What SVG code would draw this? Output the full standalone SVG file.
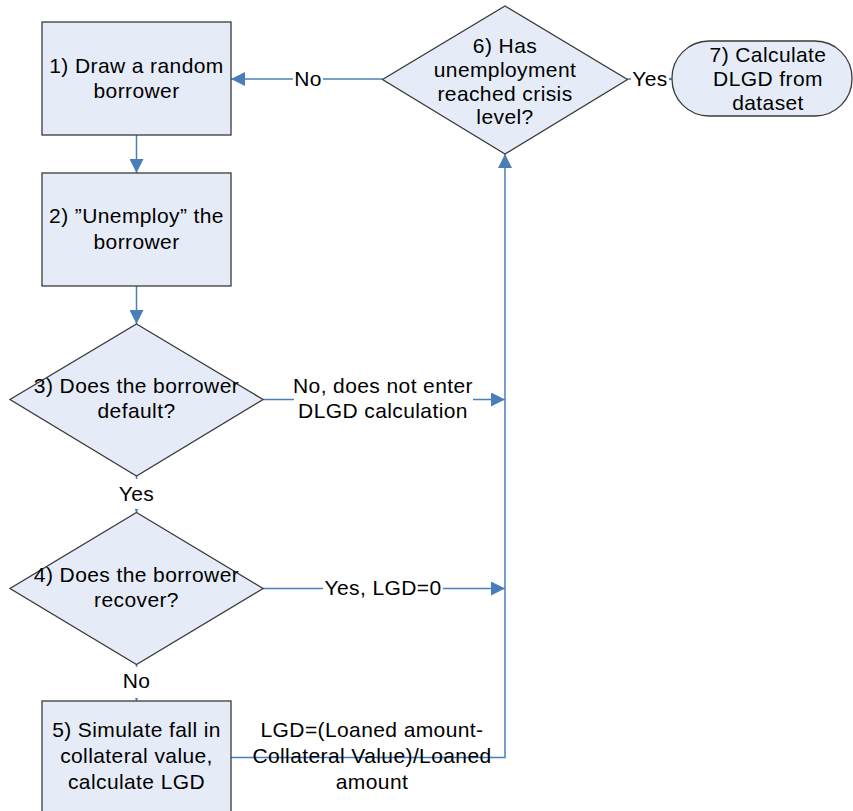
<svg xmlns="http://www.w3.org/2000/svg" width="853" height="811" viewBox="0 0 853 811">
<defs>
<style>
.shape{fill:#E6ECF7;stroke:#3a3a3a;stroke-width:1.3}
.conn{fill:none;stroke:#4A7EBB;stroke-width:1.5}
text{font-family:"Liberation Sans",Arial,sans-serif;font-size:21px;letter-spacing:0.4px;fill:#000;text-anchor:middle}
.bg{fill:#fff}
</style>
<marker id="arr" viewBox="0 0 14 14" refX="14" refY="7" markerWidth="14" markerHeight="14" markerUnits="userSpaceOnUse" orient="auto">
<path d="M0,0 L14,7 L0,14 Z" fill="#4A7EBB"/>
</marker>
</defs>
<rect width="853" height="811" fill="#fff"/>
<g id="connectors">
<path class="conn" d="M136.5,135 V173" marker-end="url(#arr)"/>
<path class="conn" d="M136.5,286 V324" marker-end="url(#arr)"/>
<path class="conn" d="M136.5,476 V512.5" marker-end="url(#arr)"/>
<path class="conn" d="M136.5,664.5 V701" marker-end="url(#arr)"/>
<path class="conn" d="M263,399.5 H505" marker-end="url(#arr)"/>
<path class="conn" d="M263,588.5 H505" marker-end="url(#arr)"/>
<path class="conn" d="M231,757.5 H505 V154" marker-end="url(#arr)"/>
<path class="conn" d="M382.5,79 H231" marker-end="url(#arr)"/>
<path class="conn" d="M627.5,79 H672" marker-end="url(#arr)"/>
<g id="conn-labels">
<rect class="bg" x="293" y="67" width="30" height="24"/>
<text x="308" y="86">No</text>
<rect class="bg" x="631" y="67" width="38" height="24"/>
<text x="650" y="86">Yes</text>
<rect class="bg" x="294" y="377" width="179" height="47"/>
<text x="383" y="393">No, does not enter</text>
<text x="383" y="418">DLGD calculation</text>
<rect class="bg" x="117" y="479" width="39" height="30"/>
<text x="136.5" y="501">Yes</text>
<rect class="bg" x="323" y="577" width="120" height="24"/>
<text x="383" y="595">Yes, LGD=0</text>
<rect class="bg" x="120" y="667" width="33" height="31"/>
<text x="136.5" y="688">No</text>
<text x="372" y="737">LGD=(Loaned amount-</text>
<text x="372" y="763">Collateral Value)/Loaned</text>
<text x="372" y="789">amount</text>
</g>
</g>
<g id="node1">
<rect class="shape" x="42" y="22" width="189" height="113"/>
<text x="136.5" y="72.5">1) Draw a random</text>
<text x="136.5" y="98">borrower</text>
</g>
<g id="node2">
<rect class="shape" x="42" y="173" width="189" height="113"/>
<text x="136.5" y="223">2) ”Unemploy” the</text>
<text x="136.5" y="248.5">borrower</text>
</g>
<g id="node3">
<path class="shape" d="M136.5,324 L263,399.5 L136.5,476 L10,399.5 Z"/>
<text x="136.5" y="393">3) Does the borrower</text>
<text x="136.5" y="418">default?</text>
</g>
<g id="node4">
<path class="shape" d="M136.5,512.5 L263,588.5 L136.5,664.5 L10,588.5 Z"/>
<text x="136.5" y="582">4) Does the borrower</text>
<text x="136.5" y="607">recover?</text>
</g>
<g id="node5">
<rect class="shape" x="42" y="701" width="189" height="113"/>
<text x="136.5" y="737">5) Simulate fall in</text>
<text x="136.5" y="763">collateral value,</text>
<text x="136.5" y="789">calculate LGD</text>
</g>
<g id="node6">
<path class="shape" d="M505,6 L627.5,79.5 L505,154 L382.5,79.5 Z"/>
<text x="505" y="53">6) Has</text>
<text x="505" y="77">unemployment</text>
<text x="505" y="100.5">reached crisis</text>
<text x="505" y="124">level?</text>
</g>
<g id="node7">
<rect class="shape" x="672" y="41" width="180" height="75" rx="37" ry="37"/>
<text x="768" y="62">7) Calculate</text>
<text x="768" y="86">DLGD from</text>
<text x="768" y="110">dataset</text>
</g>
</svg>
